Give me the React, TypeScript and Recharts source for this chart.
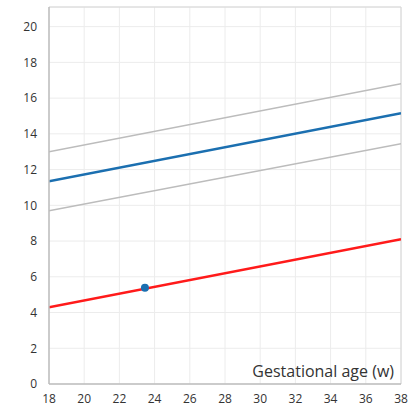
import {
  ComposedChart,
  Line,
  Scatter,
  XAxis,
  YAxis,
  CartesianGrid,
  ReferenceLine,
  Label,
} from "recharts";

const xTicks = [18, 20, 22, 24, 26, 28, 30, 32, 34, 36, 38];
const yTicks = [0, 2, 4, 6, 8, 10, 12, 14, 16, 18, 20];
const yMax = 21.1;

// each reference line: value at 18 weeks and at 38 weeks
const upperLimit = [
  { x: 18, y: 13.0 },
  { x: 38, y: 16.8 },
];
const median = [
  { x: 18, y: 11.35 },
  { x: 38, y: 15.15 },
];
const lowerLimit = [
  { x: 18, y: 9.7 },
  { x: 38, y: 13.45 },
];
const patientLine = [
  { x: 18, y: 4.3 },
  { x: 38, y: 8.1 },
];
const measurement = [{ x: 23.45, y: 5.38 }];

const font = "'Open Sans', 'Noto Sans', sans-serif";

export default function App() {
  return (
    <div style={{ position: "absolute", left: 0, top: 0, background: "#fff" }}>
      <ComposedChart
        width={413}
        height={407}
        margin={{ top: 7, right: 12, bottom: 0, left: 0 }}
      >
        <CartesianGrid stroke="#ececec" />
        <XAxis
          type="number"
          dataKey="x"
          domain={[18, 38]}
          ticks={xTicks}
          interval={0}
          allowDataOverflow
          height={23}
          tickLine={false}
          axisLine={{ stroke: "#bdbdbd", strokeWidth: 1.5 }}
          tick={{ fill: "#333", fontSize: 12, fontFamily: font }}
          tickMargin={4}
        />
        <YAxis
          type="number"
          dataKey="y"
          domain={[0, yMax]}
          ticks={yTicks}
          interval={0}
          allowDataOverflow
          width={49}
          tickLine={false}
          axisLine={{ stroke: "#bdbdbd", strokeWidth: 1.5 }}
          tick={{ fill: "#333", fontSize: 12, fontFamily: font }}
          tickMargin={6}
        />
        <ReferenceLine y={yMax} stroke="#d6d6d6" />
        <ReferenceLine x={38} stroke="#d6d6d6" />
        <Line
          data={upperLimit}
          dataKey="y"
          stroke="#bcbcbc"
          strokeWidth={1.5}
          dot={false}
          isAnimationActive={false}
        />
        <Line
          data={lowerLimit}
          dataKey="y"
          stroke="#bcbcbc"
          strokeWidth={1.5}
          dot={false}
          isAnimationActive={false}
        />
        <Line
          data={median}
          dataKey="y"
          stroke="#1b6fb0"
          strokeWidth={2.5}
          dot={false}
          isAnimationActive={false}
        />
        <Line
          data={patientLine}
          dataKey="y"
          stroke="#ff1a1a"
          strokeWidth={2.5}
          dot={false}
          isAnimationActive={false}
        />
        <Scatter
          data={measurement}
          dataKey="y"
          fill="#1b6fb0"
          shape={(p: any) => <circle cx={p.cx} cy={p.cy} r={4} fill="#1b6fb0" />}
          isAnimationActive={false}
        />
        <ReferenceLine y={0} stroke="none">
          <Label
            value="Gestational age (w)"
            position="insideBottomRight"
            offset={7}
            fill="#333"
            fontSize={16}
            fontFamily={font}
          />
        </ReferenceLine>
      </ComposedChart>
    </div>
  );
}
